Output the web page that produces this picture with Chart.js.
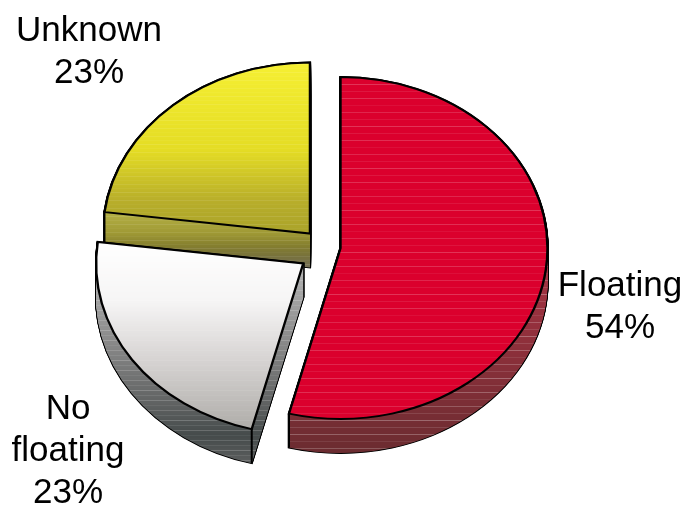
<!DOCTYPE html>
<html><head><meta charset="utf-8">
<style>html,body{margin:0;padding:0;background:#fff}#wrap{width:685px;height:506px;position:relative}</style>
<script src="https://cdn.jsdelivr.net/npm/chart.js@4"></script></head>
<body><div id="wrap"><canvas id="c" width="685" height="506"></canvas></div>
<script>
const categories = ['Floating', 'No floating', 'Unknown'];
const shares = [54, 23, 23];
const labelLines = [['Floating', '54%'], ['No', 'floating', '23%'], ['Unknown', '23%']];

// styling only
const TILT = 0.826, DEPTH = 34, RADIUS = 207;
const labelAnchors = [[620, 286], [68, 409], [89, 31]];
const explode = [0, 81, 71];
const nudge = [[20.5, 3], [0, 9], [1.7, -0.5]];
const topRamps = [
  [[0,'#db002d'],[506,'#db002d']],
  [[240,'#ffffff'],[300,'#f6f5f5'],[360,'#d6d3d2'],[430,'#aeaca8']],
  [[60,'#f6f033'],[150,'#e4dc24'],[200,'#b8ae2a'],[235,'#a9a22a']]
];
const wallRamps = [
  [[250,'#a83444'],[330,'#92303c'],[400,'#7c2e36'],[455,'#6a2c30']],
  [[265,'#b5b5b5'],[340,'#8a8a8a'],[400,'#626464'],[435,'#454b4b'],[465,'#5e6060']],
  [[212,'#b4b044'],[232,'#a09a35'],[245,'#857f2e'],[256,'#77713c'],[268,'#76705a']]
];
const topStripe = [0.2, 0.07, 0.1];
const wallStripe = [0.28, 0.2, 0.1];
const stripeStep = [7, 5, 4];
const stripeCycle = [1, 0.45, 0.9, 0.3, 0.75, 0.4];

function hex(c){return [1,3,5].map(i=>parseInt(c.substr(i,2),16));}
function rampAt(r,y){
  if(y<=r[0][0])return hex(r[0][1]);
  for(let i=1;i<r.length;i++){ if(y<=r[i][0]){
    const t=(y-r[i-1][0])/(r[i][0]-r[i-1][0]),a=hex(r[i-1][1]),b=hex(r[i][1]);
    return a.map((v,j)=>v+(b[j]-v)*t);}}
  return hex(r[r.length-1][1]);
}
function paintRows(o,W,H,ramp,step,amt){
  const rows=document.createElement('canvas');rows.width=W;rows.height=H;
  const r=rows.getContext('2d');
  for(let y=0;y<H;y++){
    let c=rampAt(ramp,y);
    if(y%step===0){const s=amt*stripeCycle[(y/step)%stripeCycle.length];c=c.map(v=>v+(255-v)*s);}
    r.fillStyle='rgb('+c.map(Math.round).join(',')+')';
    r.fillRect(0,y,W,1);
  }
  o.globalCompositeOperation='source-in';
  o.drawImage(rows,0,0);
  o.globalCompositeOperation='source-over';
}
const piePlugin={
  id:'tiltedPie',
  beforeDatasetDraw(chart,args){
    const ctx=chart.ctx,W=chart.width,H=chart.height,arcs=chart.getDatasetMeta(args.index).data;
    const off=document.createElement('canvas');off.width=W;off.height=H;
    const place=(c,i,d)=>{const cy=arcs[i].y;
      c.translate(nudge[i][0],nudge[i][1]+d);
      c.translate(0,cy);c.scale(1,TILT);c.translate(0,-cy);};
    const drawArc=(c,i,over)=>{const a=arcs[i],s=a.options;a.options=Object.assign({},s,over);a.draw(c);a.options=s;};
    for(const i of [2,1,0]){
      const a=arcs[i];
      // outline of the extruded side
      for(let d=DEPTH;d>=0;d-=0.5){ctx.save();place(ctx,i,d);drawArc(ctx,i,{backgroundColor:'#000',borderColor:'#000',borderWidth:2.2});ctx.restore();}
      // side fill
      let o=off.getContext('2d');o.clearRect(0,0,W,H);
      for(let d=DEPTH;d>=0;d-=0.5){o.save();place(o,i,d);drawArc(o,i,{backgroundColor:'#000',borderWidth:0});o.restore();}
      paintRows(o,W,H,wallRamps[i],stripeStep[i],wallStripe[i]);
      ctx.drawImage(off,0,0);
      // vertical corner edges
      const span=a.endAngle-a.startAngle,mid=(a.startAngle+a.endAngle)/2;
      const eff=(a.options.offset||0)/4,rad=a.outerRadius+eff*(1-Math.sin(Math.min(Math.PI,span)));
      for(const ang of [a.startAngle,a.endAngle]){
        const px=a.x+Math.cos(mid)*eff+Math.cos(ang)*rad+nudge[i][0];
        const py=a.y+TILT*(Math.sin(mid)*eff+Math.sin(ang)*rad)+nudge[i][1];
        ctx.beginPath();ctx.moveTo(px,py);ctx.lineTo(px,py+DEPTH);ctx.strokeStyle='#000';ctx.lineWidth=2;ctx.stroke();
      }
      // top face
      o.clearRect(0,0,W,H);
      o.save();place(o,i,0);drawArc(o,i,{backgroundColor:'#000',borderWidth:0});o.restore();
      paintRows(o,W,H,topRamps[i],stripeStep[i],topStripe[i]);
      ctx.drawImage(off,0,0);
      ctx.save();place(ctx,i,0);drawArc(ctx,i,{backgroundColor:'rgba(0,0,0,0)',borderColor:'#000',borderWidth:2.4});ctx.restore();
    }
    return false;
  },
  afterDraw(chart){
    const ctx=chart.ctx;
    ctx.save();ctx.fillStyle='#000';ctx.font='35px "Liberation Sans"';ctx.textAlign='center';ctx.textBaseline='middle';
    labelLines.forEach((lines,i)=>lines.forEach((t,j)=>ctx.fillText(t,labelAnchors[i][0],labelAnchors[i][1]+j*42)));
    ctx.restore();
  }
};
new Chart(document.getElementById('c'),{
  type:'pie',
  data:{labels:categories,datasets:[{data:shares,backgroundColor:['#db002d','#e8e6e4','#d8d02c'],borderColor:'#000',borderWidth:2.4,borderJoinStyle:'miter',offset:explode}]},
  options:{responsive:false,animation:false,radius:RADIUS,rotation:0,
    layout:{padding:{left:0,right:45,top:0,bottom:16}},
    plugins:{legend:{display:false},tooltip:{enabled:false},title:{display:false}}},
  plugins:[piePlugin]
});
</script></body></html>
